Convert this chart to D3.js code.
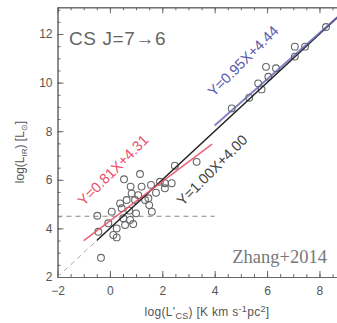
<!DOCTYPE html>
<html>
<head>
<meta charset="utf-8">
<script src="https://cdn.jsdelivr.net/npm/d3@7"></script>
<style>
body { margin: 0; background: #fff; }
text { font-family: "Liberation Sans", Arial, sans-serif; }
</style>
</head>
<body>
<svg class="chart"></svg>
<script>
// log L'cs and log L_IR of the sources
var logLcs = [-0.48, -0.34, 0.54, 1.15, 0.79, 1.21, 1.57, 2.10, 0.83, 1.08, 1.47, 1.76, 0.64, 0.39,
    0.96, 1.34, 1.50, 0.45, 0.07, 0.74, 1.00, 1.60, -0.06, 0.51, 0.77, 0.89, 0.58, 0.26, 0.13, 0.26,
    -0.44, 2.10, 2.36, 2.48, 3.31, 1.91,
    4.65, 5.32, 5.66, 5.79, 6.05, 5.96, 6.34, 7.06, 7.06, 7.45, 8.25];
var logLir = [4.52, 2.79, 6.02, 6.24, 5.72, 5.72, 5.79, 5.65, 5.44, 5.37, 5.24, 5.47, 5.17, 5.03,
    5.17, 5.17, 4.96, 4.83, 4.69, 4.73, 4.62, 4.69, 4.21, 4.42, 4.35, 4.18, 4.14, 4.00, 3.73, 3.63,
    3.86, 5.86, 5.86, 6.58, 6.74, 5.92,
    8.94, 9.38, 9.97, 9.72, 10.24, 10.65, 10.59, 11.07, 11.48, 11.48, 12.29];

var fitNames = ["Y=0.81X+4.31", "Y=0.95X+4.44", "Y=1.00X+4.00"];
var fitSlope = [0.81, 0.95, 1.00];
var fitIcpt = [4.31, 4.44, 4.00];
var fitFrom = [-1.0, 4.0, -0.5];
var fitTo = [3.9, 8.7, 8.7];
var fitLabelAt = [[0.12, 6.40], [5.08, 10.89], [3.90, 6.40]];

var xTicks = [-2, 0, 2, 4, 6, 8];
var yTicks = [2, 4, 6, 8, 10, 12];
var cutLevel = 4.5;

var width = 337, height = 323;
var chart = d3.select(".chart").attr("width", width).attr("height", height);

var x = d3.scaleLinear().domain([-2, 8.7]).range([57.5, 337.8]);
var y = d3.scaleLinear().domain([2, 13.1]).range([277, 7.3]);

// axes, ticks pointing inwards like IDL
var minorX = d3.range(-2, 8.71, 0.5);
var minorY = d3.range(2, 13.1, 0.5);

function styleAxis(g) {
    g.selectAll("path, line").attr("stroke", "#666");
    g.selectAll("text").attr("fill", "#555").style("font-size", "12px");
}

chart.append("g").attr("transform", "translate(0," + y(2) + ")")
    .call(d3.axisBottom(x).tickValues(minorX).tickSize(-3).tickSizeOuter(0).tickFormat(""))
    .call(styleAxis);
chart.append("g").attr("transform", "translate(0," + y(2) + ")")
    .call(d3.axisBottom(x).tickValues(xTicks).tickSize(-6).tickSizeOuter(0).tickPadding(9)
        .tickFormat(function(d) { return d < 0 ? "\u2212" + Math.abs(d) : d; }))
    .call(styleAxis);
chart.append("g").attr("transform", "translate(0," + y(13.1) + ")")
    .call(d3.axisTop(x).tickValues(minorX).tickSize(-3).tickSizeOuter(0).tickFormat(""))
    .call(styleAxis);
chart.append("g").attr("transform", "translate(0," + y(13.1) + ")")
    .call(d3.axisTop(x).tickValues(xTicks).tickSize(-6).tickSizeOuter(0).tickFormat(""))
    .call(styleAxis);
chart.append("g").attr("transform", "translate(" + x(-2) + ",0)")
    .call(d3.axisLeft(y).tickValues(minorY).tickSize(-3).tickSizeOuter(0).tickFormat(""))
    .call(styleAxis);
chart.append("g").attr("transform", "translate(" + x(-2) + ",0)")
    .call(d3.axisLeft(y).tickValues(yTicks).tickSize(-6).tickSizeOuter(0).tickPadding(5))
    .call(styleAxis);

// dashed guides
chart.append("line")
    .attr("x1", x(-2)).attr("x2", x(4))
    .attr("y1", y(cutLevel)).attr("y2", y(cutLevel))
    .attr("stroke", "#888").attr("stroke-width", 1).attr("stroke-dasharray", "5,4");
chart.append("line")
    .attr("x1", x(-2)).attr("x2", x(fitFrom[2]))
    .attr("y1", y(-2 * fitSlope[2] + fitIcpt[2])).attr("y2", y(fitFrom[2] * fitSlope[2] + fitIcpt[2]))
    .attr("stroke", "#aaa").attr("stroke-width", 1).attr("stroke-dasharray", "5,4");

// data points
chart.append("g").selectAll("circle")
    .data(logLcs)
    .enter()
    .append("circle")
    .attr("cx", function(d) { return x(d); })
    .attr("cy", function(d, i) { return y(logLir[i]); })
    .attr("r", 3.4)
    .attr("fill", "none")
    .attr("stroke", "#666")
    .attr("stroke-width", 1.1);

// fits: black first, then red and blue over it
var fitColor = ["#e9506c", "#6464b0", "#222"];
var fitWidth = [1.5, 2, 1.5];
var fitOpacity = [0.9, 0.8, 1];
[2, 0, 1].forEach(function(i) {
    chart.append("line")
        .attr("x1", x(fitFrom[i])).attr("x2", x(fitTo[i]))
        .attr("y1", y(fitFrom[i] * fitSlope[i] + fitIcpt[i]))
        .attr("y2", y(fitTo[i] * fitSlope[i] + fitIcpt[i]))
        .attr("stroke", fitColor[i])
        .attr("stroke-width", fitWidth[i])
        .attr("stroke-opacity", fitOpacity[i]);
});

var labelColor = ["#e9506c", "#5a5aaa", "#444"];
fitNames.forEach(function(name, i) {
    var px = x(fitLabelAt[i][0]), py = y(fitLabelAt[i][1]);
    chart.append("text")
        .attr("transform", "translate(" + px + "," + py + ") rotate(-45)")
        .attr("text-anchor", "middle")
        .attr("dy", "0.35em")
        .attr("fill", labelColor[i])
        .style("font-size", "14.5px")
        .text(name);
});

// title and reference
chart.append("text")
    .attr("x", 69).attr("y", 45)
    .attr("fill", "#666")
    .style("font-size", "19px")
    .style("letter-spacing", "0.6px")
    .text("CS  J=7\u21926");

chart.append("text")
    .attr("x", 327).attr("y", 263)
    .attr("text-anchor", "end")
    .attr("fill", "#777")
    .style("font-family", "'Liberation Serif', 'Times New Roman', serif")
    .style("font-size", "18.5px")
    .text("Zhang+2014");

// axis titles
var xt = chart.append("text")
    .attr("x", 207).attr("y", 316)
    .attr("text-anchor", "middle")
    .attr("fill", "#555")
    .style("font-size", "12px")
    .style("letter-spacing", "0.3px");
xt.append("tspan").text("log(L'");
xt.append("tspan").attr("dy", 3).style("font-size", "9px").text("CS");
xt.append("tspan").attr("dy", -3).text(")  [K km s");
xt.append("tspan").attr("dy", -4).style("font-size", "9px").text("-1");
xt.append("tspan").attr("dy", 4).text("pc");
xt.append("tspan").attr("dy", -4).style("font-size", "9px").text("2");
xt.append("tspan").attr("dy", 4).text("]");

var yt = chart.append("text")
    .attr("transform", "translate(24,152) rotate(-90)")
    .attr("text-anchor", "middle")
    .attr("fill", "#555")
    .style("font-size", "12px");
yt.append("tspan").text("log(L");
yt.append("tspan").attr("dy", 3).style("font-size", "8px").text("IR");
yt.append("tspan").attr("dy", -3).text(")  [L");
yt.append("tspan").attr("dy", 3).style("font-size", "8px").text("\u2299");
yt.append("tspan").attr("dy", -3).text("]");
</script>
</body>
</html>
